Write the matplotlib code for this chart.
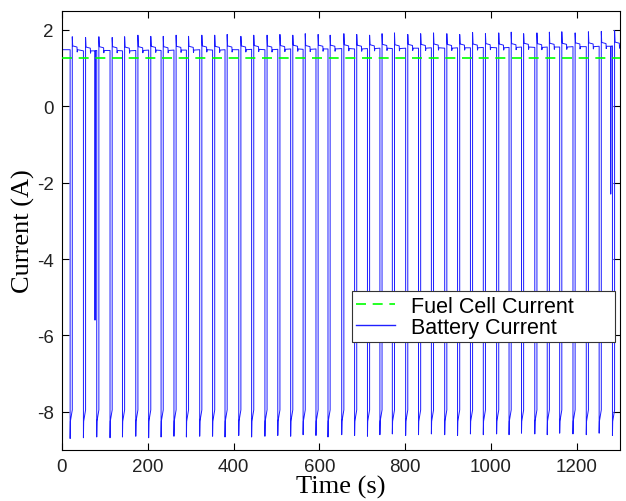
import numpy as np
import matplotlib
matplotlib.use("Agg")
import matplotlib.pyplot as plt

plt.rcParams['axes.unicode_minus'] = False

# start time (s) of each battery discharge pulse
pulse_start = [19, 50, 81, 112, 141, 172, 202, 231, 261, 290, 321, 351, 380, 412,
               442, 473, 503, 533, 562, 592, 620, 652, 682, 712, 741, 770, 801, 831,
               861, 892, 922, 952, 982, 1013, 1042, 1071, 1102, 1131, 1160, 1191,
               1222, 1252, 1283]
# lowest point at the start of each pulse (A)
pulse_trough = [-8.70, -8.68, -8.66, -8.68, -8.66, -8.64, -8.68, -8.66, -8.64, -8.66,
                -8.64, -8.64, -8.66, -8.62, -8.66, -8.64, -8.62, -8.64, -8.60, -8.62,
                -8.66, -8.60, -8.62, -8.64, -8.60, -8.58, -8.62, -8.60, -8.58, -8.60,
                -8.62, -8.58, -8.60, -8.58, -8.60, -8.56, -8.58, -8.60, -8.56, -8.58,
                -8.60, -8.56, -8.62]
# overshoot right after each pulse ends (A)
pulse_peak = [1.82, 1.80, 1.82, 1.80, 1.82, 1.86, 1.83, 1.83, 1.86, 1.83, 1.86, 1.86,
              1.88, 1.83, 1.86, 1.86, 1.88, 1.86, 1.90, 1.88, 1.86, 1.90, 1.88, 1.86,
              1.90, 1.92, 1.88, 1.90, 1.92, 1.90, 1.88, 1.93, 1.90, 1.92, 1.94, 1.90,
              1.92, 1.94, 1.95, 1.92, 1.95, 1.96, 1.98]
# resting battery current between pulses (A)
rest_level = [1.48, 1.45, 1.46, 1.46, 1.45, 1.46, 1.47, 1.46, 1.47, 1.47, 1.48, 1.47,
              1.48, 1.48, 1.49, 1.48, 1.49, 1.50, 1.49, 1.50, 1.50, 1.51, 1.50, 1.51,
              1.52, 1.51, 1.52, 1.52, 1.53, 1.52, 1.53, 1.53, 1.54, 1.53, 1.54, 1.55,
              1.54, 1.55, 1.55, 1.56, 1.56, 1.57, 1.58]
# level during the pulse: just after the drop and just before the recovery (A)
plateau_start = -8.25
plateau_end = -7.95
pulse_length = 5.0

# partial dips seen in the trace: time (s) and lowest value (A)
dip_time = [77, 1279]
dip_value = [-5.6, -2.3]

fuel_cell_level = 1.25
t_end = 1300

# build the battery trace from the read values
t = [0.0]
i_bat = [rest_level[0]]
for k, t0 in enumerate(pulse_start):
    t1 = t0 + pulse_length
    base = rest_level[k]
    t += [t0, t0, t0 + 0.6, t1, t1, t1 + 1.0, t1 + 11.0, t1 + 11.5, t1 + 12.5]
    i_bat += [base, pulse_trough[k], plateau_start, plateau_end, pulse_peak[k],
              base + 0.10, base + 0.07, base - 0.06, base]
    for td, vd in zip(dip_time, dip_value):
        if t1 < td < (pulse_start[k + 1] if k + 1 < len(pulse_start) else t_end):
            t += [td, td, td + 0.4]
            i_bat += [base, vd, base]
t.append(t_end)
i_bat.append(rest_level[-1])

fig = plt.figure(figsize=(6.26, 5.02), dpi=100)
ax = fig.add_axes([0.099, 0.1016, 0.891, 0.875])

ax.plot([0, t_end], [fuel_cell_level, fuel_cell_level], '--', color='#00ff00',
        lw=1.2, dashes=(6, 4), label='Fuel Cell Current', zorder=3)
ax.plot(t, i_bat, color='#1a1aff', lw=0.7, label='Battery Current', zorder=2)

ax.set_xlim(0, 1300)
ax.set_ylim(-9, 2.5)
ax.set_xticks(np.arange(0, 1201, 200))
ax.set_yticks(np.arange(-8, 3, 2))
ax.tick_params(direction='in', top=True, right=True, length=5,
               labelsize=13.5, pad=6, labelcolor='#222222')
for lab in ax.get_xticklabels() + ax.get_yticklabels():
    lab.set_family('Liberation Sans')

ax.set_xlabel('Time (s)', family='Liberation Serif', fontsize=19, labelpad=0)
ax.set_ylabel('Current (A)', family='Liberation Serif', fontsize=19, labelpad=1)

# MATLAB-style legend: a fixed-width box with extra room on the right
leg = ax.legend(loc='lower left', bbox_to_anchor=(0.52, 0.246, 0.471, 0.118),
                mode='expand', prop={'family': 'Liberation Sans', 'size': 15.5},
                fancybox=False, edgecolor='#333333', framealpha=1,
                borderpad=0.2, labelspacing=0.0, handlelength=1.8,
                handletextpad=0.75, borderaxespad=0)
leg.get_frame().set_linewidth(0.8)
leg.get_lines()[1].set_linewidth(1.0)
leg.get_lines()[1].set_color('#2020ff')

fig.savefig('out.png', dpi=100)
